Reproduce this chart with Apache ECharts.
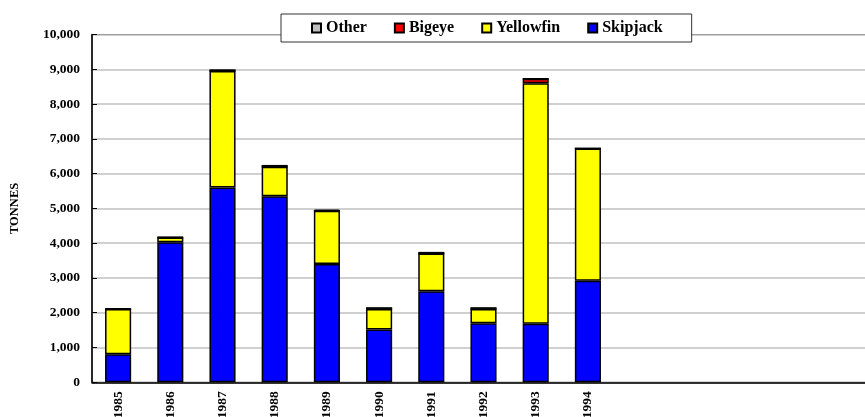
<!DOCTYPE html>
<html>
<head>
<meta charset="utf-8">
<script src="https://cdn.jsdelivr.net/npm/echarts@6/dist/echarts.min.js"></script>
<style>html,body{margin:0;padding:0;background:#fff;overflow:hidden}#c{width:865px;height:417px}</style>
</head>
<body>
<div id="c"></div>
<script>
var years = ['1985','1986','1987','1988','1989','1990','1991','1992','1993','1994','','','','',''];
var skipjack  = [810, 4030, 5600, 5350, 3400, 1520, 2620, 1700, 1680, 2920];
var yellowfin = [1300, 130, 3350, 850, 1530, 590, 1080, 410, 6920, 3800];
var bigeye    = [0, 0, 0, 0, 0, 0, 0, 0, 130, 0];
var other     = [15, 20, 50, 50, 40, 50, 50, 50, 0, 0];
var yTicks = { min: 0, max: 10000, interval: 1000 };

var font = 'Liberation Serif';
function ser(name, data, color) {
  return {
    name: name, type: 'bar', stack: 'total', data: data, barWidth: '50%',
    itemStyle: { color: color, borderColor: '#000', borderWidth: 1.5 }
  };
}
var chart = echarts.init(document.getElementById('c'));
chart.setOption({
  animation: false,
  backgroundColor: '#fff',
  grid: { left: 92, top: 34.5, height: 347.8, width: 783, containLabel: false, outerBoundsMode: 'none',
          show: true, borderColor: '#404040', borderWidth: 1 },
  legend: {
    data: ['Other', 'Bigeye', 'Yellowfin', 'Skipjack'],
    left: 281, top: 14,
    padding: [6, 29, 6, 30],
    itemGap: 27, itemWidth: 9, itemHeight: 9,
    backgroundColor: '#fff', borderColor: '#333', borderWidth: 1,
    icon: 'rect',
    textStyle: { fontFamily: font, fontWeight: 'bold', fontSize: 16, color: '#000' }
  },
  xAxis: {
    type: 'category', data: years,
    axisLine: { lineStyle: { color: '#000', width: 1.5 } },
    axisTick: { show: false },
    axisLabel: { rotate: 90, interval: 0, margin: 9, fontFamily: font, fontWeight: 'bold', fontSize: 13.5, color: '#000' }
  },
  yAxis: {
    type: 'value', min: yTicks.min, max: yTicks.max, interval: yTicks.interval,
    name: 'TONNES', nameLocation: 'middle', nameGap: 71, nameRotate: 90,
    nameTextStyle: { fontFamily: font, fontWeight: 'bold', fontSize: 12.5, color: '#000' },
    axisLine: { show: true, lineStyle: { color: '#000', width: 1.5 } },
    axisTick: { show: true, inside: true, length: 5, lineStyle: { color: '#000' } },
    splitLine: { lineStyle: { color: '#c0c0c0', width: 1.5 } },
    axisLabel: {
      margin: 12, fontFamily: font, fontWeight: 'bold', fontSize: 13.5, color: '#000',
      formatter: function (v) { return v.toLocaleString('en-US'); }
    }
  },
  series: [
    ser('Skipjack', skipjack, '#0000ff'),
    ser('Yellowfin', yellowfin, '#ffff00'),
    ser('Bigeye', bigeye, '#ff0000'),
    ser('Other', other, '#c0c0c0')
  ]
});
</script>
</body>
</html>
